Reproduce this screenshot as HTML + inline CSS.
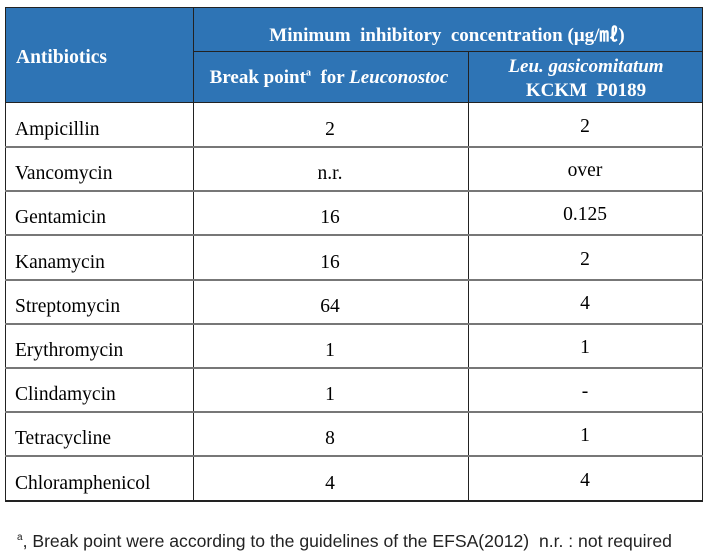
<!DOCTYPE html>
<html><head><style>
body{margin:0;width:709px;height:556px;background:#fff;position:relative;font-family:"Liberation Serif",serif;overflow:hidden}
.d{position:absolute;}
.t{position:absolute;font-size:19.5px;color:#000;white-space:nowrap}
.h{position:absolute;color:#fff;font-weight:bold;font-size:19px;white-space:nowrap}
.c{transform:translateX(-50%)}
</style></head><body>
<div class="d" style="left:5px;top:7px;width:698px;height:96px;background:#2e74b5"></div>
<div class="d" style="left:5px;top:7px;width:698px;height:1px;background:#222"></div>
<div class="d" style="left:193px;top:51px;width:510px;height:1px;background:#222"></div>
<div class="d" style="left:5px;top:102px;width:698px;height:1px;background:#222"></div>
<div class="d" style="left:5px;top:7px;width:1px;height:494px;background:#222"></div>
<div class="d" style="left:193px;top:7px;width:1px;height:494px;background:#222"></div>
<div class="d" style="left:468px;top:51px;width:1px;height:450px;background:#222"></div>
<div class="d" style="left:702px;top:7px;width:1px;height:494px;background:#222"></div>
<div class="h" style="left:16px;top:47px;font-size:19.5px">Antibiotics</div>
<div class="h c" style="left:447px;top:20px">Minimum&nbsp; inhibitory&nbsp; concentration (μg/㎖)</div>
<div class="h c" style="left:329px;top:67px">Break point<sup style="font-size:10px">a</sup>&nbsp; for <i>Leuconostoc</i></div>
<div class="h c" style="left:586px;top:55px;text-align:center;line-height:24px"><i>Leu. gasicomitatum</i><br>KCKM&nbsp; P0189</div>
<div id="rows"></div>
<div class="t" style="left:17px;top:531px;font-family:'Liberation Sans','NanumGothic',sans-serif;font-size:17.6px;color:#222"><sup style="font-size:10px">a</sup>, Break point were according to the guidelines of the EFSA(2012)&nbsp; n.r. : not required</div>
<script>
var d=[["Ampicillin","2","2"],["Vancomycin","n.r.","over"],["Gentamicin","16","0.125"],["Kanamycin","16","2"],["Streptomycin","64","4"],["Erythromycin","1","1"],["Clindamycin","1","-"],["Tetracycline","8","1"],["Chloramphenicol","4","4"]];
var h="";
for(var i=0;i<9;i++){var y=103+i*44.2;
h+='<div class="t" style="left:15px;top:'+(y+16)+'px">'+d[i][0]+'</div>';
h+='<div class="t c" style="left:330px;top:'+(y+16)+'px">'+d[i][1]+'</div>';
h+='<div class="t c" style="left:585px;top:'+(y+13)+'px">'+d[i][2]+'</div>';
h+='<div class="d" style="left:5px;top:'+(y+43)+'px;width:698px;height:2px;background:'+(i==8?'#222':'#777')+'"></div>';}
document.getElementById('rows').innerHTML=h;
</script>
</body></html>
